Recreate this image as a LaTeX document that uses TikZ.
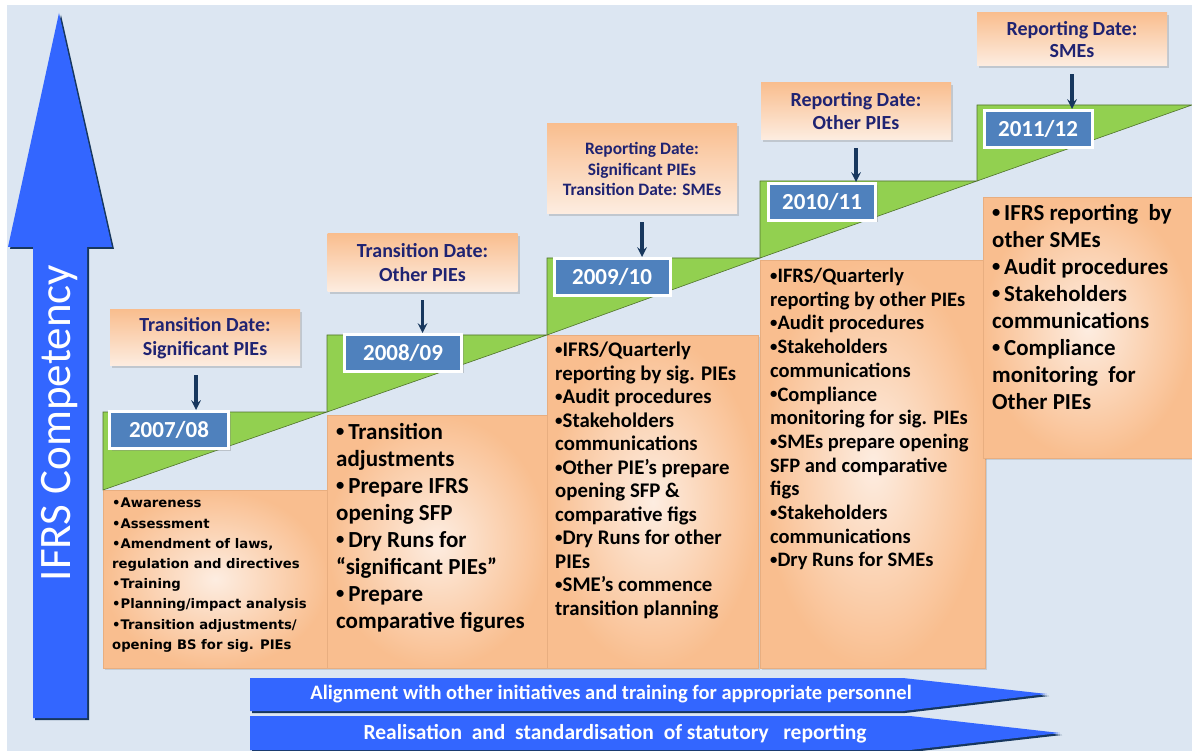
\documentclass[tikz,border=0pt]{standalone}
\usepackage{fontspec}
\usepackage{graphicx}
\setmainfont{Carlito}
\newfontfamily\verdfont{DejaVu Sans}
\usetikzlibrary{arrows, shadows}
\definecolor{bgblue}{HTML}{DCE6F2}
\definecolor{boxtan}{HTML}{F9BE8F}
\definecolor{boxpale}{HTML}{FDEDE1}
\definecolor{boxedge}{HTML}{E8AE80}
\definecolor{yearblue}{HTML}{4F81BD}
\definecolor{stepgreen}{HTML}{92D050}
\definecolor{arrowblue}{HTML}{3366FF}
\definecolor{navy}{HTML}{17375E}
\definecolor{textnavy}{HTML}{1F2372}
\newcommand{\pnt}{{\raisebox{0.22ex}{\scalebox{0.72}{\textbullet}}}}
\tikzstyle{callout} = [rectangle, top color=boxtan, bottom color=boxpale, text=textnavy, align=center, minimum width=190pt, drop shadow={opacity=0.3,shadow xshift=2pt,shadow yshift=-2pt}]
\tikzstyle{year} = [rectangle, fill=yearblue, draw=white, line width=3pt, text=white, minimum height=37pt, font=\fontsize{23}{26}\selectfont\bfseries, drop shadow={opacity=0.35,shadow xshift=2pt,shadow yshift=-2pt}]
\tikzstyle{content} = [rectangle, anchor=north west, inner color=boxpale, outer color=boxtan, draw=boxedge, line width=0.5pt, drop shadow={opacity=0.25,shadow xshift=2pt,shadow yshift=-2pt}]
\tikzstyle{bullets} = [anchor=north west, align=left, inner sep=0pt]
\tikzstyle{stepbox} = [fill=stepgreen, draw=stepgreen!55!black, line width=0.6pt]
\tikzstyle{arrow} = [line width=3.2pt,->,>=stealth,draw=navy]
\tikzstyle{band} = [fill=arrowblue]
\tikzstyle{bandshadow} = [fill=navy]

\begin{document}
\begin{tikzpicture}[x=1pt,y=-1pt]
\useasboundingbox (0,0) rectangle (1192,751);
\fill[bgblue] (7,5) rectangle (1192,751);

\fill[bandshadow] (10,249) -- (61,15) -- (114,249) -- (89,249) -- (89,720) -- (35,720) -- (35,249) -- cycle;
\fill[band] (8,247) -- (59,13) -- (112,247) -- (87,247) -- (87,718) -- (33,718) -- (33,247) -- cycle;
\node(ifrs)[rotate=90, text=white, font=\fontsize{45}{50}\selectfont] at (60,423) {IFRS Competency};

\node(b1)[content, minimum width=224pt, minimum height=178pt] at (103,490) {};
\node(b2)[content, minimum width=220pt, minimum height=253pt] at (327,415) {};
\node(b3)[content, minimum width=211pt, minimum height=333pt] at (547,335) {};
\node(b4)[content, minimum width=225pt, minimum height=408pt] at (760,260) {};
\node(b5)[content, minimum width=209pt, minimum height=261pt] at (983,197) {};

\filldraw[stepbox] (103,412) -- (327,412) -- (103,490) -- cycle;
\filldraw[stepbox] (327,335) -- (547,335) -- (327,412) -- cycle;
\filldraw[stepbox] (547,258) -- (760,258) -- (547,335) -- cycle;
\filldraw[stepbox] (760,181) -- (977,181) -- (760,258) -- cycle;
\filldraw[stepbox] (977,105) -- (1192,105) -- (977,181) -- cycle;

\node(y1)[year, minimum width=119pt, anchor=north] at (169,410) {2007/08};
\node(y2)[year, minimum width=117pt, anchor=north] at (403,333) {2008/09};
\node(y3)[year, minimum width=116pt, anchor=north] at (612,257) {2009/10};
\node(y4)[year, minimum width=107pt, anchor=north] at (822,182) {2010/11};
\node(y5)[year, minimum width=108pt, anchor=north] at (1038,109) {2011/12};

\node(c1)[callout, minimum height=56pt, font=\fontsize{20}{24}\selectfont\bfseries] at (205,338) {Transition Date:\\Significant PIEs};
\node(c2)[callout, minimum height=58pt, font=\fontsize{20}{24}\selectfont\bfseries] at (422.5,263) {Transition Date:\\Other PIEs};
\node(c3)[callout, minimum height=90pt, font=\fontsize{17.4}{20.5}\selectfont\bfseries] at (642,169) {Reporting Date:\\Significant PIEs\\Transition Date: SMEs};
\node(c4)[callout, minimum height=57pt, font=\fontsize{20}{23}\selectfont\bfseries] at (856,111.5) {Reporting Date:\\Other PIEs};
\node(c5)[callout, minimum height=53pt, font=\fontsize{20}{22}\selectfont\bfseries] at (1072,39.5) {Reporting Date:\\SMEs};

\coordinate(a1) at ([xshift=-9pt]c1.south);
\draw[arrow] ([yshift=-9pt]a1) -- (a1 |- y1.north);
\draw[arrow] ([yshift=-8pt]c2.south) -- (c2.south |- y2.north);
\draw[arrow] ([yshift=-8pt]c3.south) -- (c3.south |- y3.north);
\draw[arrow] ([yshift=-8pt]c4.south) -- (c4.south |- y4.north);
\draw[arrow] ([yshift=-8pt]c5.south) -- (c5.south |- y5.north);

\node(t1)[bullets, font=\verdfont\bfseries\fontsize{13.2}{20.2}\selectfont] at (112,498) {\textbullet Awareness\\\textbullet Assessment\\\textbullet Amendment of laws,\\regulation and directives\\\textbullet Training\\\textbullet Planning/impact analysis\\\textbullet Transition adjustments/\\opening BS for sig. PIEs};
\node(t2)[bullets, font=\bfseries\fontsize{23}{27}\selectfont] at (336,423) {\pnt\,Transition\\adjustments\\\pnt\,Prepare IFRS\\opening SFP\\\pnt\,Dry Runs for\\“significant PIEs”\\\pnt\,Prepare\\comparative figures};
\node(t3)[bullets, font=\bfseries\fontsize{20.8}{23.5}\selectfont] at (555,342) {\pnt IFRS/Quarterly\\reporting by sig. PIEs\\\pnt Audit procedures\\\pnt Stakeholders\\communications\\\pnt Other PIE’s prepare\\opening SFP \&\\comparative figs\\\pnt Dry Runs for other\\PIEs\\\pnt SME’s commence\\transition planning};
\node(t4)[bullets, font=\bfseries\fontsize{20.5}{23.7}\selectfont] at (770,268) {\pnt IFRS/Quarterly\\reporting by other PIEs\\\pnt Audit procedures\\\pnt Stakeholders\\communications\\\pnt Compliance\\monitoring for sig. PIEs\\\pnt SMEs prepare opening\\SFP and comparative\\figs\\\pnt Stakeholders\\communications\\\pnt Dry Runs for SMEs};
\node(t5)[bullets, font=\bfseries\fontsize{22.9}{27}\selectfont] at (992,204) {\pnt\,IFRS reporting\ \ by\\other SMEs\\\pnt\,Audit procedures\\\pnt\,Stakeholders\\communications\\\pnt\,Compliance\\monitoring\ \ for\\Other PIEs};

\fill[bandshadow] (252,680) -- (905,680) -- (1049,696) -- (905,713) -- (252,713) -- cycle;
\fill[band] (250,678) -- (903,678) -- (1047,694) -- (903,711) -- (250,711) -- cycle;
\node(band1)[text=white, font=\fontsize{20.5}{22}\selectfont\bfseries] at (611,694) {Alignment with other initiatives and training for appropriate personnel};
\fill[bandshadow] (252,718) -- (912,718) -- (1062,735) -- (912,752) -- (252,752) -- cycle;
\fill[band] (250,716) -- (910,716) -- (1060,733) -- (910,750) -- (250,750) -- cycle;
\node(band2)[text=white, font=\fontsize{21.5}{23}\selectfont\bfseries] at (615,734) {Realisation\ \ and\ \ standardisation\ \ of statutory\ \ \ reporting};
\end{tikzpicture}
\end{document}
